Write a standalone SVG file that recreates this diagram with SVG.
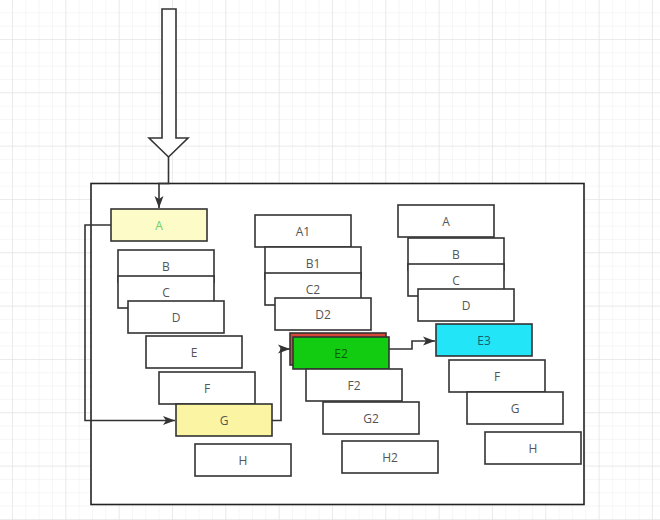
<svg xmlns="http://www.w3.org/2000/svg" width="660" height="520" viewBox="0 0 660 520">
<defs>
<pattern id="minor" patternUnits="userSpaceOnUse" x="12" y="39" width="13.33" height="13.33">
<path d="M0 0H13.33M0 0V13.33" fill="none" stroke="#eeeeee" stroke-width="1"/>
</pattern>
<pattern id="major" patternUnits="userSpaceOnUse" x="12" y="39" width="53.33" height="53.33">
<path d="M0 0H53.33M0 0V53.33" fill="none" stroke="#e0e0e0" stroke-width="1"/>
</pattern>
<marker id="arr" viewBox="0 0 12 10" refX="12" refY="5" markerWidth="12" markerHeight="10" markerUnits="userSpaceOnUse" orient="auto">
<path d="M0 0.5L12 5L0 9.5L3 5Z" fill="#333"/>
</marker>
</defs>
<style>
.n rect{fill:#fff;stroke:#333;stroke-width:1.6}
.n text{font-family:"Open Sans","Noto Sans",sans-serif;font-size:12px;fill:#555;text-anchor:middle;dominant-baseline:central}
.c{fill:none;stroke:#333;stroke-width:1.6}
</style>
<rect width="660" height="520" fill="#fff"/>
<rect width="660" height="520" fill="url(#minor)"/>
<rect width="660" height="520" fill="url(#major)"/>
<g id="container"><rect x="91" y="183.5" width="493" height="321" fill="#fff" stroke="#222" stroke-width="1.6"/></g>
<g id="bigArrow"><polygon points="162,9 176,9 176,138 188,138 168.5,157 149,138 162,138" fill="#fff" stroke="#333" stroke-width="1.6"/></g>
<g id="col1">
<g id="nA" class="n"><rect x="111" y="209" width="96" height="32" style="fill:#fdfcc8"/><text x="159" y="225" style="fill:#6fcf6f">A</text></g>
<g id="nB" class="n"><rect x="118" y="250" width="96" height="32"/><text x="166" y="266">B</text></g>
<g id="nC" class="n"><rect x="118" y="276" width="96" height="32"/><text x="166" y="292">C</text></g>
<g id="nD" class="n"><rect x="128" y="301" width="96" height="32"/><text x="176" y="317">D</text></g>
<g id="nE" class="n"><rect x="146" y="336" width="96" height="32"/><text x="194" y="352">E</text></g>
<g id="nF" class="n"><rect x="159" y="372" width="96" height="32"/><text x="207" y="388">F</text></g>
<g id="nG" class="n"><rect x="176" y="404" width="96" height="32" style="fill:#fbf5a3"/><text x="224" y="420">G</text></g>
<g id="nH" class="n"><rect x="195" y="444" width="96" height="32"/><text x="243" y="460">H</text></g>
</g>
<g id="col2">
<g id="nA1" class="n"><rect x="255" y="215" width="96" height="32"/><text x="303" y="231">A1</text></g>
<g id="nB1" class="n"><rect x="265" y="247" width="96" height="32"/><text x="313" y="263">B1</text></g>
<g id="nC2" class="n"><rect x="265" y="273" width="96" height="32"/><text x="313" y="289">C2</text></g>
<g id="nD2" class="n"><rect x="275" y="298" width="96" height="32"/><text x="323" y="314">D2</text></g>
<g id="nE2" class="n"><rect x="290" y="333" width="96" height="32" style="fill:#d9473a"/><rect x="293" y="337" width="96" height="32" style="fill:#11cc11"/><text x="341" y="353" style="fill:#0b5e0b">E2</text></g>
<g id="nF2" class="n"><rect x="306" y="369" width="96" height="32"/><text x="354" y="385">F2</text></g>
<g id="nG2" class="n"><rect x="323" y="402" width="96" height="32"/><text x="371" y="418">G2</text></g>
<g id="nH2" class="n"><rect x="342" y="441" width="96" height="32"/><text x="390" y="457">H2</text></g>
</g>
<g id="col3">
<g id="nA3" class="n"><rect x="398" y="205" width="96" height="32"/><text x="446" y="221">A</text></g>
<g id="nB3" class="n"><rect x="408" y="238" width="96" height="32"/><text x="456" y="254">B</text></g>
<g id="nC3" class="n"><rect x="408" y="264" width="96" height="32"/><text x="456" y="280">C</text></g>
<g id="nD3" class="n"><rect x="418" y="289" width="96" height="32"/><text x="466" y="305">D</text></g>
<g id="nE3" class="n"><rect x="436" y="324" width="96" height="32" style="fill:#22e6f7"/><text x="484" y="340" style="fill:#1a5f70">E3</text></g>
<g id="nF3" class="n"><rect x="449" y="360" width="96" height="32"/><text x="497" y="376">F</text></g>
<g id="nG3" class="n"><rect x="467" y="392" width="96" height="32"/><text x="515" y="408">G</text></g>
<g id="nH3" class="n"><rect x="485" y="432" width="96" height="32"/><text x="533" y="448">H</text></g>
</g>
<g id="connectors">
<path class="c" d="M168.5 157V183.5H159V208" marker-end="url(#arr)"/>
<path class="c" d="M111 225H85V420.5H175" marker-end="url(#arr)"/>
<path class="c" d="M272 420.5H281V349H290" marker-end="url(#arr)"/>
<path class="c" d="M389 349H412V341H435" marker-end="url(#arr)"/>
</g>
</svg>
